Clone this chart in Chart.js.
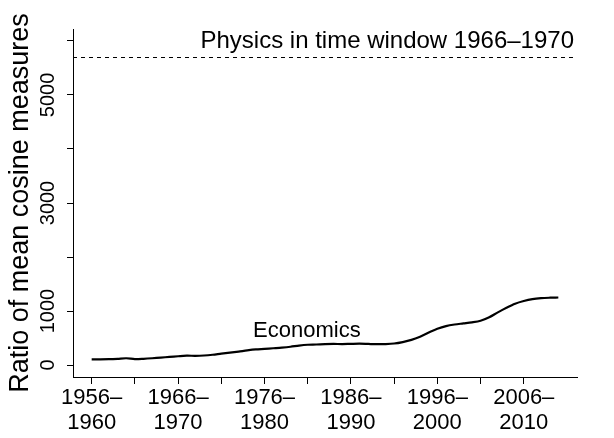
<!DOCTYPE html>
<html>
<head>
<meta charset="utf-8">
<script src="https://cdn.jsdelivr.net/npm/chart.js@4/dist/chart.umd.min.js"></script>
<style>
  body { margin: 0; background: #fff; }
</style>
</head>
<body>
<canvas id="ratioChart" width="614" height="438"></canvas>
<script>
// five-year sliding windows, one per start year
var windowStarts = [1956, 1957, 1958, 1959, 1960, 1961, 1962, 1963, 1964, 1965,
                    1966, 1967, 1968, 1969, 1970, 1971, 1972, 1973, 1974, 1975,
                    1976, 1977, 1978, 1979, 1980, 1981, 1982, 1983, 1984, 1985,
                    1986, 1987, 1988, 1989, 1990, 1991, 1992, 1993, 1994, 1995,
                    1996, 1997, 1998, 1999, 2000, 2001, 2002, 2003, 2004, 2005,
                    2006, 2007, 2008, 2009, 2010];
var economicsRatio = [105, 105, 108, 115, 125, 110, 115, 125, 138, 150,
                      162, 172, 170, 176, 190, 210, 228, 248, 270, 288,
                      298, 310, 322, 338, 360, 375, 380, 388, 390, 388,
                      392, 395, 390, 385, 388, 398, 425, 465, 525, 600,
                      670, 720, 750, 770, 790, 820, 885, 975, 1060, 1135,
                      1185, 1220, 1238, 1246, 1250];
var physicsRatio = 5700;

var xTickValues = [0, 5, 10, 15, 20, 25, 30, 35, 40, 45, 50];
var xLabelValues = [0, 10, 20, 30, 40, 50];
var xTickLabels = [['1956\u2013', '1960'], ['1966\u2013', '1970'], ['1976\u2013', '1980'],
                   ['1986\u2013', '1990'], ['1996\u2013', '2000'], ['2006\u2013', '2010']];
var yTickValues = [0, 1000, 2000, 3000, 4000, 5000, 6000];
var yTickLabels = [0, 1000, 3000, 5000];

var FONT = '"Liberation Sans", Arial, Helvetica, sans-serif';

var points = economicsRatio.map(function (v, i) { return { x: i, y: v }; });

var notes = [
    { text: 'Physics in time window 1966\u20131970', x: 34.2, y: 5985, size: 24 },
    { text: 'Economics', x: 24.9, y: 630, size: 22 }
];

// dashed reference line, rotated y tick labels and text notes
var extras = {
    id: 'extras',
    afterDatasetsDraw: function (chart) {
        var ctx = chart.ctx;
        var xs = chart.scales.x, ys = chart.scales.y;
        var area = chart.chartArea;

        var py = Math.round(ys.getPixelForValue(physicsRatio)) + 0.5;
        ctx.save();
        ctx.strokeStyle = '#000';
        ctx.lineWidth = 1;
        ctx.setLineDash([4, 4]);
        ctx.beginPath();
        ctx.moveTo(area.left, py);
        ctx.lineTo(area.right, py);
        ctx.stroke();
        ctx.restore();

        ctx.save();
        ctx.fillStyle = '#000';
        ctx.font = '20px ' + FONT;
        ctx.textAlign = 'center';
        ctx.textBaseline = 'middle';
        yTickLabels.forEach(function (v) {
            ctx.save();
            ctx.translate(ys.right - 25, ys.getPixelForValue(v));
            ctx.rotate(-Math.PI / 2);
            ctx.fillText(String(v), 0, 0);
            ctx.restore();
        });
        notes.forEach(function (n) {
            ctx.font = n.size + 'px ' + FONT;
            ctx.fillText(n.text, xs.getPixelForValue(n.x), ys.getPixelForValue(n.y));
        });
        ctx.restore();
    }
};

var ctx = document.getElementById('ratioChart').getContext('2d');
var chart = new Chart(ctx, {
    type: 'line',
    data: {
        datasets: [{
            label: 'Economics',
            data: points,
            borderColor: '#000',
            borderWidth: 2.2,
            pointRadius: 0,
            tension: 0.3,
            fill: false
        }]
    },
    options: {
        responsive: false,
        animation: false,
        devicePixelRatio: 1,
        layout: { padding: { left: 0, right: 37, top: 29, bottom: 0 } },
        plugins: {
            legend: { display: false },
            tooltip: { enabled: false }
        },
        scales: {
            x: {
                type: 'linear',
                min: -2.16,
                max: 56.16,
                afterBuildTicks: function (scale) {
                    scale.ticks = xTickValues.map(function (v) { return { value: v }; });
                },
                afterFit: function (scale) { scale.height = 61; },
                border: { display: true, color: '#000', width: 1 },
                grid: { drawOnChartArea: false, drawTicks: true, tickLength: 7, color: '#000' },
                ticks: {
                    autoSkip: false,
                    maxRotation: 0,
                    padding: 1,
                    color: '#000',
                    font: { family: FONT, size: 22, lineHeight: 1.15 },
                    callback: function (value) {
                        var k = xLabelValues.indexOf(value);
                        return k >= 0 ? xTickLabels[k] : '';
                    }
                }
            },
            y: {
                type: 'linear',
                min: -222,
                max: 6222,
                afterBuildTicks: function (scale) {
                    scale.ticks = yTickValues.map(function (v) { return { value: v }; });
                },
                afterFit: function (scale) { scale.width = 73; },
                border: { display: true, color: '#000', width: 1 },
                grid: { drawOnChartArea: false, drawTicks: true, tickLength: 6, color: '#000' },
                ticks: { display: false },
                title: {
                    display: true,
                    text: 'Ratio of mean cosine measures',
                    color: '#000',
                    font: { family: FONT, size: 27 },
                    padding: { top: 4, bottom: 0 }
                }
            }
        }
    },
    plugins: [extras]
});
</script>
</body>
</html>
